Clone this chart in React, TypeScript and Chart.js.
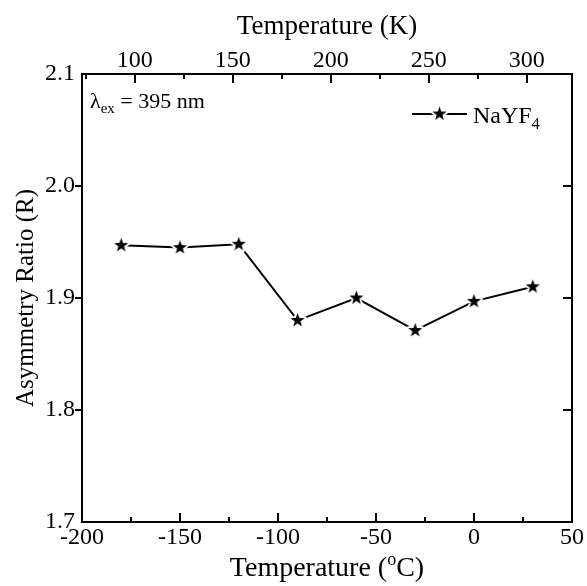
import React, { useEffect, useRef } from "react";
import { Chart, registerables } from "chart.js";

Chart.register(...registerables);

// ---- data ----
const temperaturesC = [-180, -150, -120, -90, -60, -30, 0, 30];
const asymmetryRatio = [1.947, 1.945, 1.948, 1.88, 1.9, 1.871, 1.897, 1.91];
const bottomTicksC = [-200, -150, -100, -50, 0, 50];
const bottomMinorC = [-175, -125, -75, -25, 25];
const topTicksK = [100, 150, 200, 250, 300];
const topMinorK = [75, 125, 175, 225, 275];
const yTicks = [1.7, 1.8, 1.9, 2.0, 2.1];
const xRangeC = [-200, 50];
const yRange = [1.7, 2.1];
const kelvinOffset = 273.15;
const seriesName = "NaYF";
const seriesSub = "4";
const topTitle = "Temperature (K)";
const leftTitle = "Asymmetry Ratio (R)";
const bottomTitleParts = ["Temperature (", "o", "C)"];
const annotationParts = ["\u03bb", "ex", " = 395 nm"];

const FONT = "'Liberation Serif', 'Times New Roman', serif";

function makeStar(r: number): HTMLCanvasElement {
  const size = Math.ceil(r * 2 + 8);
  const c = document.createElement("canvas");
  c.width = size;
  c.height = size;
  const ctx = c.getContext("2d")!;
  ctx.translate(size / 2, size / 2);
  ctx.beginPath();
  for (let i = 0; i < 10; i++) {
    const rad = i % 2 === 0 ? r : r * 0.4;
    const a = -Math.PI / 2 + (i * Math.PI) / 5;
    ctx.lineTo(rad * Math.cos(a), rad * Math.sin(a));
  }
  ctx.closePath();
  ctx.lineJoin = "round";
  ctx.lineWidth = 4;
  ctx.strokeStyle = "#ffffff";
  ctx.stroke();
  ctx.fillStyle = "#000000";
  ctx.fill();
  return c;
}

export default function App() {
  const ref = useRef<HTMLCanvasElement | null>(null);

  useEffect(() => {
    const canvas = ref.current!;
    const star = makeStar(7.4);

    const decorPlugin = {
      id: "decor",
      afterDraw(chart: any) {
        const ctx = chart.ctx as CanvasRenderingContext2D;
        const ca = chart.chartArea;
        const sx = chart.scales.x;
        const sx2 = chart.scales.x2;
        const sy = chart.scales.y;
        ctx.save();
        ctx.strokeStyle = "#000";
        ctx.lineWidth = 2;
        ctx.lineCap = "butt";
        const vline = (x: number, y1: number, y2: number) => {
          ctx.beginPath();
          ctx.moveTo(Math.round(x), y1);
          ctx.lineTo(Math.round(x), y2);
          ctx.stroke();
        };
        const hline = (y: number, x1: number, x2: number) => {
          ctx.beginPath();
          ctx.moveTo(x1, Math.round(y));
          ctx.lineTo(x2, Math.round(y));
          ctx.stroke();
        };
        // bottom ticks (inward)
        bottomTicksC.forEach((v) => {
          const x = sx.getPixelForValue(v);
          if (x > ca.left + 1 && x < ca.right - 1) vline(x, ca.bottom, ca.bottom - 9);
        });
        bottomMinorC.forEach((v) => vline(sx.getPixelForValue(v), ca.bottom, ca.bottom - 5));
        // top ticks (inward)
        topTicksK.forEach((v) => vline(sx2.getPixelForValue(v), ca.top, ca.top + 9));
        topMinorK.forEach((v) => {
          const x = sx2.getPixelForValue(v);
          if (x > ca.left + 1 && x < ca.right - 1) vline(x, ca.top, ca.top + 5);
        });
        // left ticks (outward) and right ticks (inward)
        yTicks.forEach((v) => {
          const y = sy.getPixelForValue(v);
          if (y > ca.top + 1 && y < ca.bottom - 1) {
            hline(y, ca.left, ca.left - 7);
            hline(y, ca.right, ca.right - 9);
          }
        });

        // bottom title with superscript
        ctx.fillStyle = "#000";
        ctx.textBaseline = "alphabetic";
        ctx.textAlign = "left";
        const big = `28px ${FONT}`;
        const small = `18px ${FONT}`;
        ctx.font = big;
        const w1 = ctx.measureText(bottomTitleParts[0]).width;
        const w3 = ctx.measureText(bottomTitleParts[2]).width;
        ctx.font = small;
        const w2 = ctx.measureText(bottomTitleParts[1]).width;
        const total = w1 + w2 + w3;
        let bx = (ca.left + ca.right) / 2 - total / 2;
        const by = 576;
        ctx.font = big;
        ctx.fillText(bottomTitleParts[0], bx, by);
        bx += w1;
        ctx.font = small;
        ctx.fillText(bottomTitleParts[1], bx, by - 11);
        bx += w2;
        ctx.font = big;
        ctx.fillText(bottomTitleParts[2], bx, by);

        // annotation lambda_ex = 395 nm
        let ax = ca.left + 8;
        const ay = ca.top + 34;
        ctx.font = `22px ${FONT}`;
        ctx.fillText(annotationParts[0], ax, ay);
        ax += ctx.measureText(annotationParts[0]).width;
        ctx.font = `15px ${FONT}`;
        ctx.fillText(annotationParts[1], ax, ay + 5);
        ax += ctx.measureText(annotationParts[1]).width;
        ctx.font = `22px ${FONT}`;
        ctx.fillText(annotationParts[2], ax, ay);

        // legend
        const ly = ca.top + 40;
        const lx1 = ca.right - 160;
        const lx2 = ca.right - 105;
        ctx.beginPath();
        ctx.moveTo(lx1, ly);
        ctx.lineTo(lx2, ly);
        ctx.stroke();
        const lsx = (lx1 + lx2) / 2;
        ctx.drawImage(star, lsx - star.width / 2, ly - star.height / 2);
        ctx.font = `24px ${FONT}`;
        const tx = lx2 + 6;
        ctx.fillText(seriesName, tx, ly + 9);
        const tw = ctx.measureText(seriesName).width;
        ctx.font = `16px ${FONT}`;
        ctx.fillText(seriesSub, tx + tw, ly + 15);
        ctx.restore();
      },
    };

    const chart = new Chart(canvas, {
      type: "line",
      data: {
        datasets: [
          {
            label: seriesName + seriesSub,
            data: temperaturesC.map((t, i) => ({ x: t, y: asymmetryRatio[i] })),
            borderColor: "#000",
            backgroundColor: "#000",
            borderWidth: 2,
            tension: 0,
            pointStyle: star as any,
            pointRadius: 8,
            pointHoverRadius: 8,
            fill: false,
          },
        ],
      },
      options: {
        responsive: false,
        animation: false,
        devicePixelRatio: 1,
        layout: { padding: 0 },
        plugins: {
          legend: { display: false },
          tooltip: { enabled: false },
        },
        scales: {
          x: {
            type: "linear",
            position: "bottom",
            min: xRangeC[0],
            max: xRangeC[1],
            afterBuildTicks: (s: any) => {
              s.ticks = bottomTicksC.map((v) => ({ value: v }));
            },
            afterFit: (s: any) => {
              s.height = 64;
            },
            grid: { display: false, drawTicks: false },
            border: { display: true, color: "#000", width: 2 },
            ticks: {
              color: "#000",
              padding: 3,
              maxRotation: 0,
              autoSkip: false,
              font: { family: FONT, size: 24, lineHeight: 1.1 },
              callback: (v: any) => String(v),
            },
            title: { display: false },
          },
          x2: {
            type: "linear",
            position: "top",
            min: xRangeC[0] + kelvinOffset,
            max: xRangeC[1] + kelvinOffset,
            afterBuildTicks: (s: any) => {
              s.ticks = topTicksK.map((v) => ({ value: v }));
            },
            afterFit: (s: any) => {
              s.height = 74;
            },
            grid: { display: false, drawTicks: false },
            border: { display: true, color: "#000", width: 2 },
            ticks: {
              color: "#000",
              padding: 0,
              maxRotation: 0,
              autoSkip: false,
              font: { family: FONT, size: 24, lineHeight: 1.1 },
              callback: (v: any) => String(v),
            },
            title: {
              display: true,
              text: topTitle,
              color: "#000",
              font: { family: FONT, size: 27 },
              padding: { top: 11, bottom: 0 },
            },
          },
          y: {
            type: "linear",
            position: "left",
            min: yRange[0],
            max: yRange[1],
            afterBuildTicks: (s: any) => {
              s.ticks = yTicks.map((v) => ({ value: v }));
            },
            afterFit: (s: any) => {
              s.width = 82;
            },
            grid: { display: false, drawTicks: false },
            border: { display: true, color: "#000", width: 2 },
            ticks: {
              color: "#000",
              padding: 7,
              autoSkip: false,
              font: { family: FONT, size: 24 },
              callback: (v: any) => Number(v).toFixed(1),
            },
            title: {
              display: true,
              text: leftTitle,
              color: "#000",
              font: { family: FONT, size: 25 },
              padding: { top: 11, bottom: 0 },
            },
          },
          y2: {
            type: "linear",
            position: "right",
            min: yRange[0],
            max: yRange[1],
            afterFit: (s: any) => {
              s.width = 15;
            },
            grid: { display: false, drawTicks: false },
            border: { display: true, color: "#000", width: 2 },
            ticks: { display: false },
          },
        },
      },
      plugins: [decorPlugin],
    });

    return () => chart.destroy();
  }, []);

  return (
    <div style={{ position: "fixed", left: 0, top: 0, width: 587, height: 586, background: "#fff" }}>
      <canvas ref={ref} width={587} height={586} style={{ display: "block" }} />
    </div>
  );
}
